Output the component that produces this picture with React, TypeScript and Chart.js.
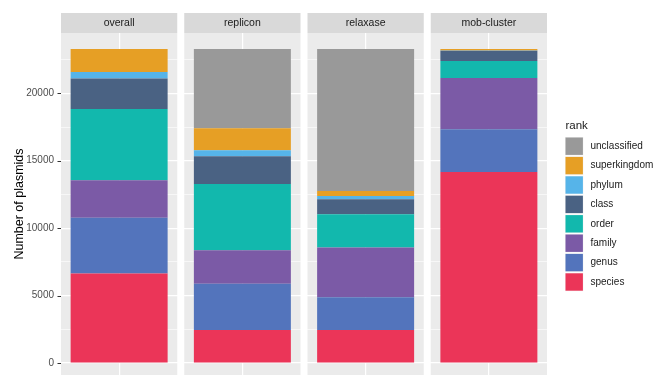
import React, { useEffect, useRef } from "react";
import { Chart, registerables } from "chart.js";

Chart.register(...registerables);

const FONT = "'Liberation Sans', Arial, sans-serif";

const facets = ["overall", "replicon", "relaxase", "mob-cluster"];
const ranks = ["species", "genus", "family", "order", "class", "phylum", "superkingdom", "unclassified"];
const rankColors = ["#EB3558", "#5374BC", "#7B5AA6", "#12B8AD", "#4A6283", "#56B4E9", "#E69F25", "#999999"];

const species = [6644, 2444, 2444, 14170];
const genus = [4119, 3430, 2423, 3163];
const family = [2793, 2496, 3703, 3800];
const order = [5281, 4911, 2467, 1260];
const classVals = [2252, 2052, 1111, 767];
const phylum = [489, 445, 245, 20];
const superkingdom = [1703, 1629, 370, 101];
const unclassified = [0, 5874, 10518, 0];

const yMajorTicks = [0, 5000, 10000, 15000, 20000];
const yMinorTicks = [2500, 7500, 12500, 17500, 22500];
const yTitle = "Number of plasmids";
const legendTitle = "rank";

const seriesValues = [species, genus, family, order, classVals, phylum, superkingdom, unclassified];

const facetPlugin = {
  id: "facetPlugin",
  beforeDraw(chart: any) {
    const { ctx, chartArea } = chart;
    const x = chart.scales.x;
    const step = (x.right - x.left) / facets.length;
    ctx.save();
    facets.forEach((f, i) => {
      const c = x.getPixelForValue(i);
      const l = c - step / 2 + 3.5;
      const w = step - 7;
      ctx.fillStyle = "#EBEBEB";
      ctx.fillRect(l, chartArea.top, w, chartArea.bottom - chartArea.top);
      ctx.fillStyle = "#D9D9D9";
      ctx.fillRect(l, chartArea.top - 20, w, 20);
      ctx.fillStyle = "#1A1A1A";
      ctx.font = "10.5px " + FONT;
      ctx.textAlign = "center";
      ctx.textBaseline = "middle";
      ctx.fillText(f, c, chartArea.top - 10);
    });
    ctx.restore();
  },
  afterDraw(chart: any) {
    const { ctx, chartArea } = chart;
    const x = chart.scales.x;
    const y = chart.scales.y;
    const step = (x.right - x.left) / facets.length;
    const panelLeft = x.getPixelForValue(0) - step / 2 + 3.5;
    ctx.save();
    ctx.strokeStyle = "#333333";
    ctx.lineWidth = 1;
    yMajorTicks.forEach((v) => {
      const py = Math.round(y.getPixelForValue(v)) + 0.5;
      ctx.beginPath();
      ctx.moveTo(panelLeft - 3.5, py);
      ctx.lineTo(panelLeft, py);
      ctx.stroke();
    });

    // legend
    const lx = chartArea.right + 15;
    const ly0 = 137.5;
    const pitch = 19.4;
    const ks = 17.4;
    ctx.fillStyle = "#1A1A1A";
    ctx.font = "11.5px " + FONT;
    ctx.textAlign = "left";
    ctx.textBaseline = "alphabetic";
    ctx.fillText(legendTitle, lx, 129);
    const ds = chart.data.datasets;
    const n = ds.length;
    for (let k = 0; k < n; k++) {
      const d = ds[n - 1 - k];
      const ky = ly0 + k * pitch;
      ctx.fillStyle = "#F2F2F2";
      ctx.fillRect(lx - 0.5, ky - 0.5, ks + 1, ks + 1);
      ctx.fillStyle = d.backgroundColor;
      ctx.fillRect(lx, ky, ks, ks);
      ctx.fillStyle = "#1A1A1A";
      ctx.font = "10px " + FONT;
      ctx.textBaseline = "middle";
      ctx.fillText(d.label, lx + 25, ky + ks / 2);
    }
    ctx.restore();
  },
};

export default function App() {
  const canvasRef = useRef<HTMLCanvasElement | null>(null);

  useEffect(() => {
    const canvas = canvasRef.current;
    if (!canvas) return;
    const chart = new Chart(canvas, {
      type: "bar",
      data: {
        labels: facets,
        datasets: ranks.map((r, i) => ({
          label: r,
          data: seriesValues[i],
          backgroundColor: rankColors[i],
          borderWidth: 0,
          barPercentage: 1,
          categoryPercentage: 0.787,
        })),
      },
      options: {
        animation: false,
        responsive: false,
        devicePixelRatio: 1,
        layout: { padding: { top: 33, right: 103.5, bottom: 0, left: 0 } },
        plugins: {
          legend: { display: false },
          tooltip: { enabled: false },
        },
        scales: {
          x: {
            stacked: true,
            offset: true,
            ticks: { display: false },
            grid: { color: "#FFFFFF", lineWidth: 1.2, offset: false, drawTicks: false },
            border: { display: false },
            afterFit: (s: any) => {
              s.height = 0;
              s.paddingLeft = 0;
              s.paddingRight = 0;
            },
          },
          y: {
            stacked: true,
            min: -890,
            max: 24472,
            afterBuildTicks: (s: any) => {
              s.ticks = [...yMajorTicks, ...yMinorTicks]
                .sort((a, b) => a - b)
                .map((v) => ({ value: v }));
            },
            afterFit: (s: any) => {
              s.width = 57.5;
              s.paddingTop = 0;
              s.paddingBottom = 0;
            },
            ticks: {
              autoSkip: false,
              padding: 3.5,
              color: "#4D4D4D",
              font: { family: FONT, size: 10 },
              callback: (v: any) => (yMajorTicks.includes(Number(v)) ? String(v) : ""),
            },
            grid: {
              color: "#FFFFFF",
              lineWidth: (c: any) => (c.tick && yMajorTicks.includes(c.tick.value) ? 1.2 : 0.6),
              drawTicks: false,
            },
            border: { display: false },
            title: {
              display: true,
              text: yTitle,
              color: "#000000",
              font: { family: FONT, size: 12.5 },
              padding: { top: 12, bottom: 0 },
            },
          },
        },
      },
      plugins: [facetPlugin],
    });
    return () => chart.destroy();
  }, []);

  return (
    <div style={{ position: "absolute", left: 0, top: 0, width: 654, height: 375, background: "#FFFFFF" }}>
      <canvas ref={canvasRef} width={654} height={375} style={{ display: "block" }} />
    </div>
  );
}
